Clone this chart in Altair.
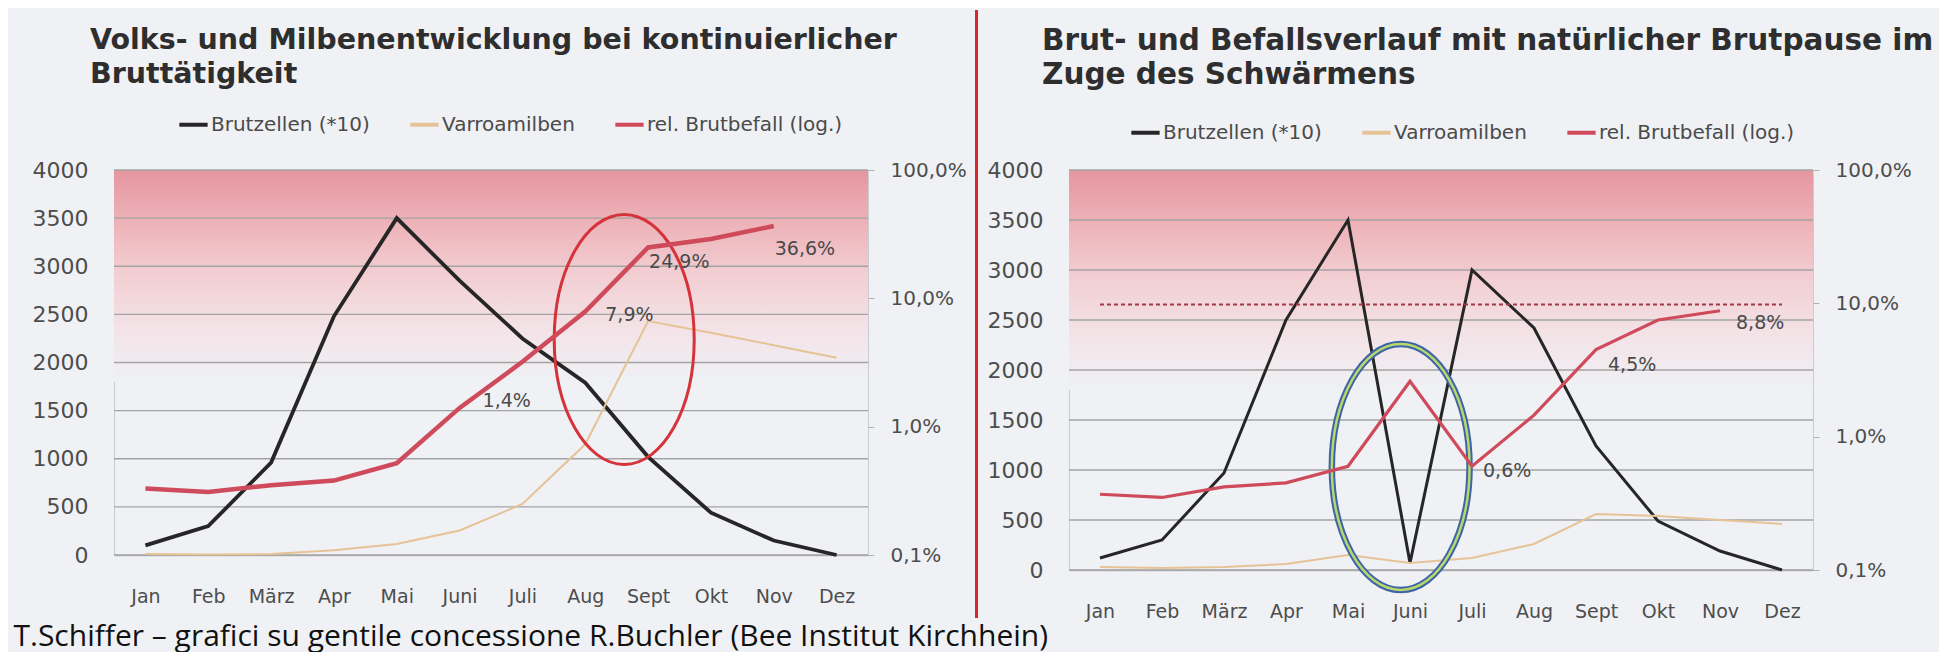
import json
import altair as alt
import pandas as pd

# ---------------- data ----------------
MONTHS = ["Jan", "Feb", "März", "Apr", "Mai", "Juni", "Juli", "Aug", "Sept", "Okt", "Nov", "Dez"]
SERIES = ["Brutzellen (*10)", "Varroamilben", "rel. Brutbefall (log.)"]

# left panel: continuous brood
BRUT_L = [100, 300, 960, 2480, 3500, 2850, 2250, 1790, 1020, 440, 150, 0]
VARROA_L = [10, 5, 10, 50, 115, 255, 530, 1150, 2430, 2310, 2180, 2050]
BEFALL_L = [0.33, 0.31, 0.35, 0.38, 0.52, 1.4, 3.2, 7.9, 24.9, 29.0, 36.6, None]
LABELED_L = ["Juni", "Aug", "Sept", "Nov"]

# right panel: natural brood pause (swarming)
BRUT_R = [120, 300, 970, 2500, 3500, 70, 3000, 2420, 1240, 490, 190, 0]
VARROA_R = [30, 20, 30, 60, 150, 70, 120, 260, 560, 540, 500, 460]
BEFALL_R = [0.37, 0.35, 0.42, 0.45, 0.6, 2.6, 0.6, 1.45, 4.5, 7.5, 8.8, None]
LABELED_R = ["Juli", "Sept", "Nov"]
THRESHOLD_R = [9.8] * 12

# annotation ellipses (month position, value on left axis)
ELLIPSE_L = {"i": [7.62], "v": [2240]}
ELLIPSE_R = {"i": [4.85], "v": [1030]}

LEFT_TICKS = [0, 500, 1000, 1500, 2000, 2500, 3000, 3500, 4000]
RIGHT_TICKS = [0.1, 1, 10, 100]

TITLE_L = ["Volks- und Milbenentwicklung bei kontinuierlicher", "Bruttätigkeit"]
TITLE_R = ["Brut- und Befallsverlauf mit natürlicher Brutpause im", "Zuge des Schwärmens"]
FOOTER = "T.Schiffer – grafici su gentile concessione R.Buchler (Bee Institut Kirchhein)"

# ---------------- style ----------------
BG = "#eff1f5"
AX_FONT = "DejaVu Sans"
COLORS = ["#262626", "#e6c396", "#cf4a5a"]
ELLIPSE_PATH = ("M0,-1 C0.309,-1 0.56,-0.5523 0.56,0 C0.56,0.5523 0.309,1 0,1 "
                "C-0.309,1 -0.56,0.5523 -0.56,0 C-0.56,-0.5523 -0.309,-1 0,-1 Z")

month_expr = json.dumps(MONTHS) + "[datum.value]"


def frame(values, field):
    return pd.DataFrame({"i": list(range(12)), "month": MONTHS, field: values})


def panel(brut, varroa, befall, labeled, label_offsets, width, height, title, title_size,
          title_dx, title_offset, legend_x, legend_y, ellipse, ellipse_size,
          ellipse_style, line_w, threshold=None):
    X = alt.X("i:Q", scale=alt.Scale(domain=[-0.5, 11.5], nice=False, zero=False),
              axis=alt.Axis(values=list(range(12)), labelExpr=month_expr, title=None,
                            grid=False, ticks=False, domainColor="#b8b8b8", domainWidth=1.5,
                            labelPadding=32, labelFont=AX_FONT, labelFontSize=19,
                            labelColor="#4d4d4d"))
    YL = alt.Y("v:Q", scale=alt.Scale(domain=[0, 4000], nice=False),
               axis=alt.Axis(values=LEFT_TICKS, format="d", title=None, grid=False,
                             ticks=False, domain=False, labelPadding=26, labelFont=AX_FONT,
                             labelFontSize=22, labelColor="#4d4d4d"))
    YR = alt.Y("p:Q", scale=alt.Scale(type="log", domain=[0.1, 100], nice=False),
               axis=alt.Axis(orient="right", values=RIGHT_TICKS, title=None, grid=False,
                             labelExpr="replace(format(datum.value, '.1f'), '.', ',') + '%'",
                             ticks=True, tickSize=6, tickColor="#b0b0b0", domain=False,
                             labelPadding=16, labelFont=AX_FONT, labelFontSize=20,
                             labelColor="#4d4d4d"))
    legend = alt.Legend(orient="none", legendX=legend_x, legendY=legend_y,
                        direction="horizontal", title=None, symbolType="stroke",
                        symbolStrokeWidth=4, symbolSize=800, labelFont=AX_FONT,
                        labelFontSize=20, labelColor="#4a4a4a", labelOffset=1,
                        labelLimit=0, columnPadding=32)
    C = lambda: alt.Color("series:N", scale=alt.Scale(domain=SERIES, range=COLORS),
                          legend=legend)

    bg = pd.DataFrame({"i": [-0.5], "i2": [11.5], "v": [4000], "v2": [1800]})
    grad = alt.Chart(bg).mark_rect(
        color=alt.Gradient(gradient="linear", x1=0, x2=0, y1=0, y2=1, stops=[
            alt.GradientStop(offset=0, color="#e5969f"),
            alt.GradientStop(offset=0.25, color="#edb3b9"),
            alt.GradientStop(offset=0.5, color="#f2cfd3"),
            alt.GradientStop(offset=0.75, color="#f3e3e7"),
            alt.GradientStop(offset=1, color=BG)])
    ).encode(x=X, x2="i2:Q", y=YL, y2="v2:Q")

    grid = alt.Chart(pd.DataFrame({"v": LEFT_TICKS})).mark_rule(
        color="#a3a3a3", strokeWidth=1.3).encode(y=YL)

    dfb = frame(brut, "v").assign(series=SERIES[0])
    dfv = frame(varroa, "v").assign(series=SERIES[1])
    dfr = frame(befall, "p").assign(series=SERIES[2]).dropna()

    black = alt.Chart(dfb).mark_line(strokeWidth=line_w[0]).encode(x=X, y=YL, color=C())
    tan = alt.Chart(dfv).mark_line(strokeWidth=line_w[1]).encode(x=X, y=YL, color=C())

    ell_layers = []
    for st in ellipse_style:
        ell_layers.append(alt.Chart(pd.DataFrame(ellipse)).mark_point(
            shape=ELLIPSE_PATH, size=ellipse_size, filled=False, opacity=1,
            strokeWidth=st[1], color=st[0]).encode(x=X, y=YL))

    left_group = alt.layer(grad, grid, black, tan, *ell_layers)

    right_layers = []
    if threshold is not None:
        dft = frame(threshold, "p")
        right_layers.append(alt.Chart(dft).mark_line(
            color="#a8364a", strokeWidth=2.2, strokeDash=[4, 3]).encode(x=X, y=YR))
    right_layers.append(alt.Chart(dfr).mark_line(strokeWidth=line_w[2]).encode(
        x=X, y=YR, color=C()))
    for m, (dx, dy) in zip(labeled, label_offsets):
        row = dfr[dfr["month"] == m].copy()
        row["lbl"] = row["p"].map(lambda p: f"{p:.1f}".replace(".", ",") + "%")
        right_layers.append(alt.Chart(row).mark_text(
            align="left", baseline="middle", dx=dx, dy=dy, font=AX_FONT, fontSize=19,
            color="#4a4a4a").encode(x=X, y=YR, text="lbl:N"))
    right_group = alt.layer(*right_layers)

    return alt.layer(left_group, right_group).resolve_scale(y="independent").properties(
        width=width, height=height,
        title=alt.TitleParams(text=title, anchor="start", frame="group", dx=title_dx,
                              offset=title_offset, font="DejaVu Sans", fontSize=title_size,
                              fontWeight="bold", color="#2e2e2e", lineHeight=34))


left = panel(BRUT_L, VARROA_L, BEFALL_L, LABELED_L, [(23, -7), (20, 4), (1, 15), (1, 23)],
             754, 385, TITLE_L, 28.5, -24, 20, 63, -62,
             ELLIPSE_L, 62500, [("#d6323a", 3)], (3.8, 2, 4.5))
right = panel(BRUT_R, VARROA_R, BEFALL_R, LABELED_R, [(11, 5), (12, 15), (16, 12)],
              744, 400, TITLE_R, 29.5, -27, 26, 60, -54,
              ELLIPSE_R, 60500, [("#3d64a8", 6.5), ("#b9d86c", 2.5)], (3, 2, 3.2),
              threshold=THRESHOLD_R)

# red separator between the two slides' charts
divider = alt.Chart(pd.DataFrame({"d": [0]})).mark_rule(
    color="#d9262b", strokeWidth=3).encode(
    x=alt.value(1.5), y=alt.value(-160), y2=alt.value(448)
).properties(width=3, height=400, view=alt.ViewBackground(stroke=None))

chart = alt.hconcat(left, divider, right, spacing=8).resolve_scale(
    color="independent").properties(
    padding={"left": 5, "top": 0, "right": 5, "bottom": 0},
    title=alt.TitleParams(text=FOOTER, orient="bottom", anchor="start", dx=-18, offset=0,
                          font="Open Sans", fontSize=30, fontWeight="normal", color="#111111")
).configure(background=BG).configure_view(stroke="#c9ccd3", strokeWidth=1)

chart.save("out.html", embed_options={"renderer": "svg", "actions": False})
